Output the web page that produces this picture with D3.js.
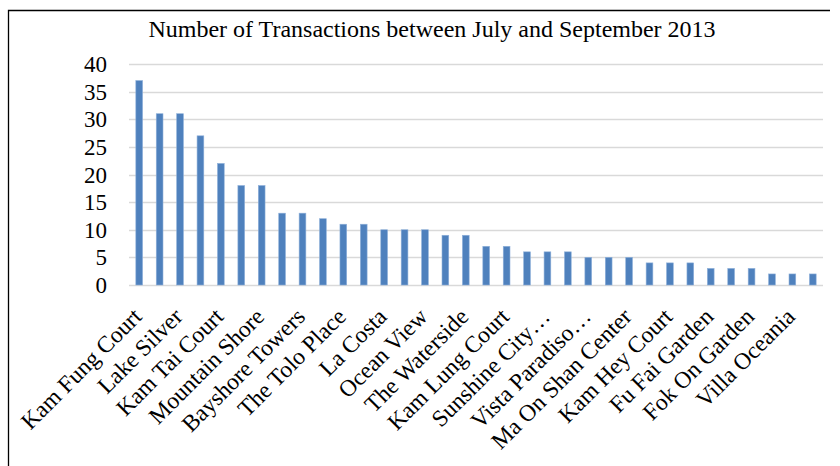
<!DOCTYPE html>
<html>
<head>
<meta charset="utf-8">
<script src="https://cdn.jsdelivr.net/npm/d3@7"></script>
<style>
  html, body { margin: 0; padding: 0; background: #fff; }
  svg { display: block; }
  text { font-family: "Liberation Serif", "Times New Roman", serif; fill: #000; }
</style>
</head>
<body>
<svg id="chart" width="840" height="466"></svg>
<script>
// ---- data ----
const title = "Number of Transactions between July and September 2013";
// Labels shown on the axis (every other category is labelled)
const shownLabels = [
  "Kam Fung Court", "Lake Silver", "Kam Tai Court", "Mountain Shore",
  "Bayshore Towers", "The Tolo Place", "La Costa", "Ocean View",
  "The Waterside", "Kam Lung Court", "Sunshine City…", "Vista Paradiso…",
  "Ma On Shan Center", "Kam Hey Court", "Fu Fai Garden", "Fok On Garden",
  "Villa Oceania"
];
const values = [37, 31, 31, 27, 22, 18, 18, 13, 13, 12, 11, 11, 10, 10, 10, 9, 9,
                7, 7, 6, 6, 6, 5, 5, 5, 4, 4, 4, 3, 3, 3, 2, 2, 2];
const yTicks = [0, 5, 10, 15, 20, 25, 30, 35, 40];

// ---- layout ----
const svg = d3.select("#chart");
const plot = { left: 129, right: 823, top: 64, bottom: 285 };

const x = d3.scaleBand()
  .domain(d3.range(values.length))
  .range([plot.left, plot.right])
  .paddingInner(0.67)
  .paddingOuter(0.335);

const y = d3.scaleLinear().domain([0, 40]).range([plot.bottom, plot.top]);

// frame (left and top edges visible)
svg.append("path")
  .attr("d", `M8.5,466 L8.5,10.5 L830,10.5`)
  .attr("fill", "none").attr("stroke", "#000").attr("stroke-width", 1.3);

// title
svg.append("text")
  .attr("x", 432).attr("y", 37)
  .attr("text-anchor", "middle")
  .attr("font-size", 24)
  .text(title);

// gridlines
svg.append("g").selectAll("line")
  .data(yTicks)
  .join("line")
  .attr("x1", plot.left).attr("x2", plot.right)
  .attr("y1", d => Math.round(y(d)) + 0.5).attr("y2", d => Math.round(y(d)) + 0.5)
  .attr("stroke", "#d9d9d9").attr("stroke-width", 1.5);

// y axis labels
const yAxis = d3.axisLeft(y).tickValues(yTicks).tickSize(0).tickPadding(0);
const gy = svg.append("g").attr("transform", `translate(107,0)`).call(yAxis);
gy.select(".domain").remove();
gy.attr("font-size", null).attr("font-family", null);
gy.selectAll("text")
  .attr("font-size", 23)
  .attr("fill", "#000")
  .attr("dy", "0.33em");

// bars
svg.append("g").selectAll("rect")
  .data(values)
  .join("rect")
  .attr("x", (d, i) => x(i))
  .attr("width", x.bandwidth())
  .attr("y", d => y(d))
  .attr("height", d => y(0) - y(d))
  .attr("fill", "#4f81bd")
  .attr("stroke", "#8eb0da").attr("stroke-width", 0.6);

// x axis labels (every other category)
const xAxis = d3.axisBottom(x)
  .tickValues(d3.range(0, values.length, 2))
  .tickFormat(i => shownLabels[i / 2])
  .tickSize(0);
const gx = svg.append("g").attr("transform", `translate(0,${plot.bottom})`).call(xAxis);
gx.select(".domain").remove();
gx.attr("font-size", null).attr("font-family", null);
gx.selectAll(".tick text")
  .attr("font-size", 23.5)
  .attr("fill", "#000")
  .attr("text-anchor", "end")
  .attr("x", 0).attr("y", 0).attr("dy", 0)
  .attr("transform", "translate(4,33) rotate(-45)");
</script>
</body>
</html>
